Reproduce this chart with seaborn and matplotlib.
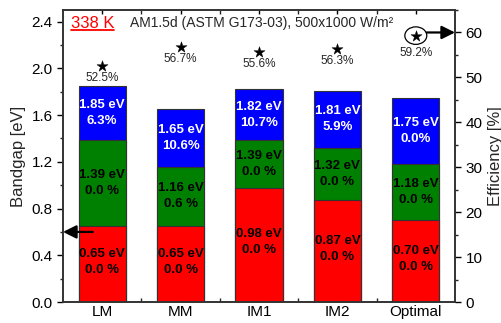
# Gráfico de bandgaps e eficiência por configuração
import numpy as np
import pandas as pd
import matplotlib.pyplot as plt
import seaborn as sns
from matplotlib.patches import Ellipse
from matplotlib.lines import Line2D
from matplotlib.ticker import MultipleLocator

# Dados
categorias = ['LM', 'MM', 'IM1', 'IM2', 'Optimal']
gap_inferior = [0.65, 0.65, 0.98, 0.87, 0.70]
gap_medio = [1.39, 1.16, 1.39, 1.32, 1.18]
gap_superior = [1.85, 1.65, 1.82, 1.81, 1.75]
ef_inferior = [0.0, 0.0, 0.0, 0.0, 0.0]
ef_medio = [0.0, 0.6, 0.0, 0.0, 0.0]
ef_superior = [6.3, 10.6, 10.7, 5.9, 0.0]
ef_total = [52.5, 56.7, 55.6, 56.3, 59.2]

df = pd.DataFrame({'Config': categorias,
                   'Inferior': gap_inferior,
                   'Medio': gap_medio,
                   'Superior': gap_superior,
                   'Eficiencia': ef_total})

sns.set_style('ticks')
plt.rcParams['font.family'] = ['Liberation Sans', 'DejaVu Sans']

fig = plt.figure(figsize=(5.02, 3.23), dpi=100)
ax = fig.add_axes([0.1255, 0.065, 0.7809, 0.904])

# Barras sobrepostas: azul (topo), verde, vermelho
borda = '#333333'
sns.barplot(data=df, x='Config', y='Superior', color='#0000ff', saturation=1,
            width=0.6, edgecolor=borda, linewidth=0.8, ax=ax)
sns.barplot(data=df, x='Config', y='Medio', color='#008000', saturation=1,
            width=0.6, edgecolor=borda, linewidth=0.8, ax=ax)
sns.barplot(data=df, x='Config', y='Inferior', color='#ff0000', saturation=1,
            width=0.6, edgecolor=borda, linewidth=0.8, ax=ax)

# Rótulos dentro das barras
for i in range(len(categorias)):
    ax.text(i, (gap_medio[i] + gap_superior[i]) / 2,
            f"{gap_superior[i]:.2f} eV\n{ef_superior[i]:.1f}%",
            ha='center', va='center', color='white', fontsize=9.5,
            fontweight='bold', linespacing=1.45)
    ax.text(i, (gap_inferior[i] + gap_medio[i]) / 2,
            f"{gap_medio[i]:.2f} eV\n{ef_medio[i]:.1f} %",
            ha='center', va='center', color='black', fontsize=9.5,
            fontweight='bold', linespacing=1.45)
    ax.text(i, gap_inferior[i] / 2 + 0.02,
            f"{gap_inferior[i]:.2f} eV\n{ef_inferior[i]:.1f} %",
            ha='center', va='center', color='black', fontsize=9.5,
            fontweight='bold', linespacing=1.45)

ax.set_xlim(-0.5, 4.5)
ax.set_ylim(0, 2.5)
ax.yaxis.set_major_locator(MultipleLocator(0.4))
ax.yaxis.set_minor_locator(MultipleLocator(0.2))
ax.set_xticks(range(len(categorias)))
ax.set_xticks(np.arange(0.5, 4.5, 1.0), minor=True)
ax.set_xticklabels(categorias)
ax.set_xlabel('')
ax.set_ylabel('Bandgap [eV]', fontsize=12, labelpad=4)
ax.tick_params(axis='both', labelsize=11, colors='black', width=1, length=4)
ax.tick_params(axis='both', which='minor', length=2.5, width=1)
ax.tick_params(axis='x', which='both', top=True, direction='in', length=3, pad=2)
for s in ax.spines.values():
    s.set_color(borda)
    s.set_linewidth(1.2)

# Seta para o eixo esquerdo
ax.annotate('', xy=(-0.5, 0.6), xytext=(-0.12, 0.6),
            arrowprops=dict(arrowstyle='-|>', color='black', lw=1.6,
                            mutation_scale=20, shrinkA=0, shrinkB=0))

# Eixo direito: eficiência
ax2 = ax.twinx()
ax2.add_patch(Ellipse((4, 59.3), 0.28, 3.9, facecolor='white',
                      edgecolor='black', lw=0.9, zorder=2))
sns.scatterplot(x=np.arange(len(categorias)), y=ef_total, marker='*', s=70,
                color='black', edgecolor='black', linewidth=0.3, ax=ax2,
                zorder=3, legend=False)
for i, v in enumerate(ef_total):
    desloc = 3.7 if i == len(ef_total) - 1 else 2.6
    ax2.text(i, v - desloc, f"{v:.1f}%", ha='center', va='center', fontsize=8.5)

ax2.annotate('', xy=(4.5, 60), xytext=(4.14, 60),
             arrowprops=dict(arrowstyle='-|>', color='black', lw=1.6,
                             mutation_scale=20, shrinkA=0, shrinkB=0))
ax2.set_ylim(0, 65)
ax2.set_xlim(-0.5, 4.5)
ax2.yaxis.set_major_locator(MultipleLocator(10))
ax2.yaxis.set_minor_locator(MultipleLocator(5))
ax2.set_ylabel('Efficiency [%]', fontsize=12, labelpad=4)
ax2.tick_params(axis='y', labelsize=11, colors='black', width=1, length=4)
ax2.tick_params(axis='y', which='minor', length=2.5, width=1)
for s in ax2.spines.values():
    s.set_color(borda)
    s.set_linewidth(1.2)

# Textos do topo
t = ax.text(0.02, 0.955, '338 K', transform=ax.transAxes, color='red',
            fontsize=12, ha='left', va='center')
ax.text(0.172, 0.955, 'AM1.5d (ASTM G173-03), 500x1000 W/m²',
        transform=ax.transAxes, fontsize=10, ha='left', va='center')

# Sublinhado do "338 K"
fig.canvas.draw()
bb = t.get_window_extent()
fig.add_artist(Line2D([bb.x0, bb.x1], [bb.y0 + 1, bb.y0 + 1], transform=None,
                      color='red', lw=1.3))

plt.savefig('out.png', dpi=100)
